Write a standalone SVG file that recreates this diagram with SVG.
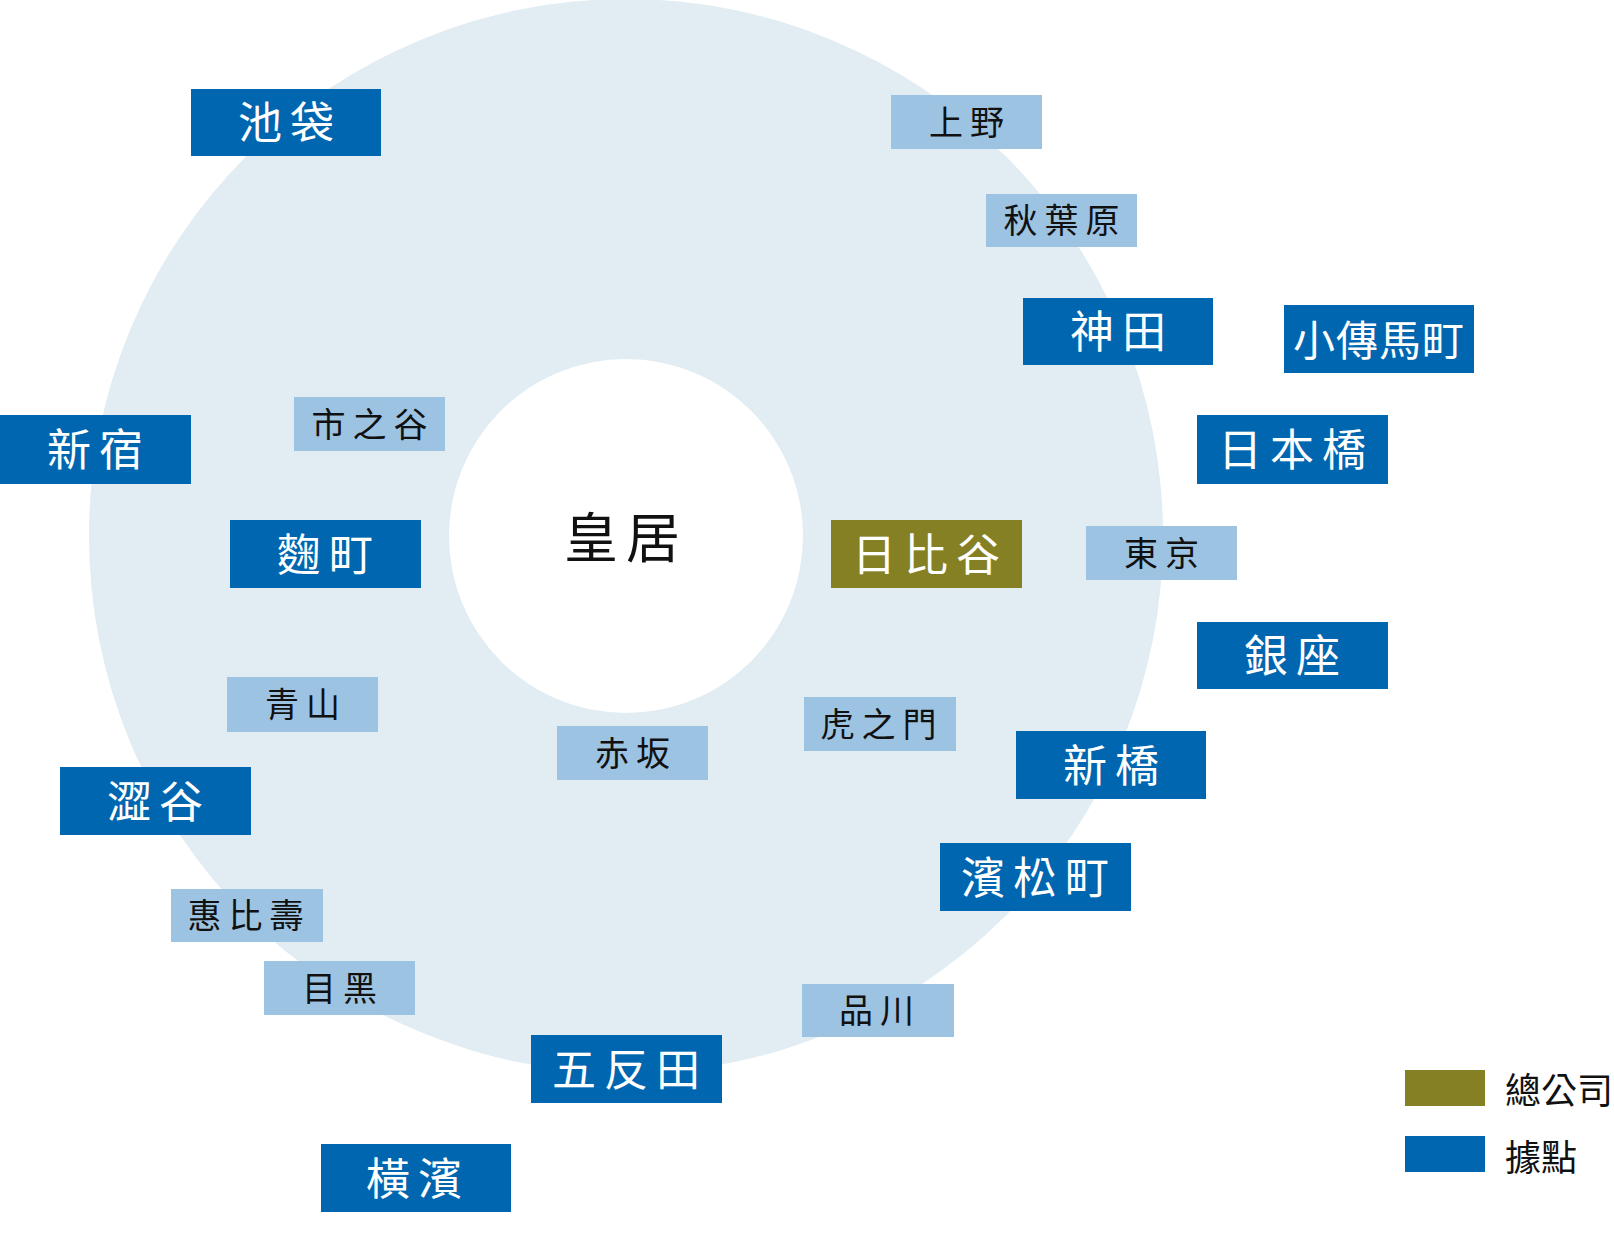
<svg xmlns="http://www.w3.org/2000/svg" width="1614" height="1241" viewBox="0 0 1614 1241">
<style>
text{font-family:"Noto Sans CJK TC","Noto Sans CJK JP",sans-serif;text-anchor:middle;dominant-baseline:central}
.d rect{fill:#0066b0}.d text{fill:#fff;font-size:44px;letter-spacing:8px}
.l rect{fill:#9dc3e2}.l text{fill:#111;font-size:34px;letter-spacing:7px}
.o rect{fill:#858024}.o text{fill:#fff;font-size:44px;letter-spacing:8px}
</style>
<rect width="1614" height="1241" fill="#fff"/>
<g id="ring">
<circle cx="626" cy="536" r="537" fill="#e1ecf3"/>
<circle cx="626" cy="536" r="177" fill="#fff"/>
<text x="626" y="534" font-size="54" fill="#111" letter-spacing="8">皇居</text>
</g>
<g id="connectors"></g>
<g id="n1" class="d"><rect x="191" y="89" width="190" height="67"/><text x="290" y="120">池袋</text></g>
<g id="n2" class="l"><rect x="891" y="95" width="151" height="54"/><text x="970" y="120">上野</text></g>
<g id="n3" class="l"><rect x="986" y="194" width="151" height="53"/><text x="1065" y="218">秋葉原</text></g>
<g id="n4" class="d"><rect x="1023" y="298" width="190" height="67"/><text x="1122" y="329">神田</text></g>
<g id="n5" class="d"><rect x="1284" y="305" width="190" height="68"/><text x="1379" y="337" style="letter-spacing:1px;font-size:42px">小傳馬町</text></g>
<g id="n6" class="l"><rect x="294" y="397" width="151" height="54"/><text x="373" y="422">市之谷</text></g>
<g id="n7" class="d"><rect x="0" y="415" width="191" height="69"/><text x="99" y="447">新宿</text></g>
<g id="n8" class="d"><rect x="1197" y="415" width="191" height="69"/><text x="1296" y="447">日本橋</text></g>
<g id="n9" class="d"><rect x="230" y="520" width="191" height="68"/><text x="329" y="552">麴町</text></g>
<g id="n10" class="o"><rect x="831" y="520" width="191" height="68"/><text x="930" y="552">日比谷</text></g>
<g id="n11" class="l"><rect x="1086" y="526" width="151" height="54"/><text x="1165" y="551">東京</text></g>
<g id="n12" class="d"><rect x="1197" y="622" width="191" height="67"/><text x="1296" y="653">銀座</text></g>
<g id="n13" class="l"><rect x="227" y="677" width="151" height="55"/><text x="306" y="702">青山</text></g>
<g id="n14" class="l"><rect x="804" y="697" width="152" height="54"/><text x="882" y="722">虎之門</text></g>
<g id="n15" class="l"><rect x="557" y="726" width="151" height="54"/><text x="636" y="751">赤坂</text></g>
<g id="n16" class="d"><rect x="1016" y="731" width="190" height="68"/><text x="1115" y="763">新橋</text></g>
<g id="n17" class="d"><rect x="60" y="767" width="191" height="68"/><text x="159" y="799">澀谷</text></g>
<g id="n18" class="d"><rect x="940" y="843" width="191" height="68"/><text x="1039" y="875">濱松町</text></g>
<g id="n19" class="l"><rect x="171" y="889" width="152" height="53"/><text x="249" y="913">惠比壽</text></g>
<g id="n20" class="l"><rect x="264" y="961" width="151" height="54"/><text x="343" y="986">目黑</text></g>
<g id="n21" class="l"><rect x="802" y="984" width="152" height="53"/><text x="880" y="1008">品川</text></g>
<g id="n22" class="d"><rect x="531" y="1035" width="191" height="68"/><text x="630" y="1067">五反田</text></g>
<g id="n23" class="d"><rect x="321" y="1144" width="190" height="68"/><text x="418" y="1176">橫濱</text></g>
<g id="legend">
<rect x="1405" y="1070" width="80" height="36" fill="#858024"/>
<rect x="1405" y="1136" width="80" height="36" fill="#0066b0"/>
<text x="1505" y="1088" font-size="36" fill="#111" style="text-anchor:start">總公司</text>
<text x="1505" y="1155" font-size="36" fill="#111" style="text-anchor:start">據點</text>
</g>
</svg>
